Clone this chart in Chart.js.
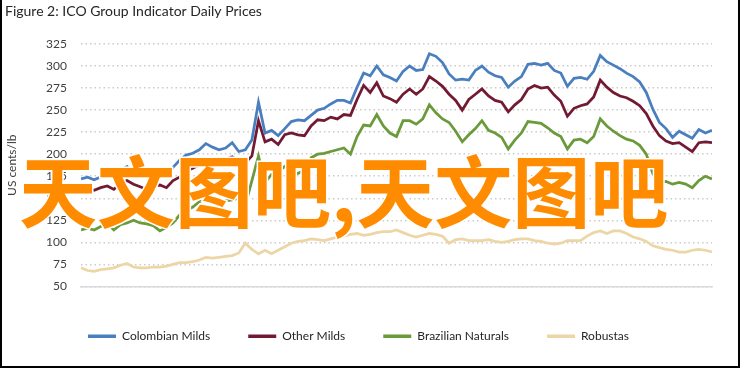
<!DOCTYPE html>
<html>
<head>
<meta charset="utf-8">
<script src="https://cdn.jsdelivr.net/npm/chart.js@4"></script>
<style>
  html, body { margin: 0; padding: 0; background: #fff; }
  #wrap { position: relative; width: 742px; height: 369px; }
  #frame {
    position: absolute; left: 0; top: 0; width: 736px; height: 366px;
    border-left: 2px solid #000; border-right: 2px solid #000; border-bottom: 2px solid #000;
    pointer-events: none;
  }
  #mark {
    position: absolute; left: 19px; top: 148px;
    font-family: "Noto Sans CJK SC"; font-weight: 700; font-size: 78px; line-height: 80px;
    color: #ff8c00; -webkit-text-stroke: 3px #fff; paint-order: stroke fill;
    white-space: nowrap; pointer-events: none;
  }
</style>
</head>
<body>
<div id="wrap">
  <canvas id="chart"></canvas>
  <div id="frame"></div>
  <div id="mark">天文图吧,天文图吧</div>
</div>
<script>
// quarterly tick labels on the x axis
const tickLabels = ['Jan-21', 'Apr-21', 'Jul-21', 'Oct-21', 'Jan-22', 'Apr-22', 'Jul-22', 'Oct-22'];
// one reading every quarter month, Jan 2021 -> Jan 2023 (US cents/lb)
const monthStep = 0.25;

const colombianMilds = [
  172, 174, 171, 174, 178, 176, 181, 186, 176, 179, 177, 180,
  184, 178, 185, 193, 199, 201, 205, 212, 208, 205, 207, 213,
  203, 205, 216, 259, 224, 227, 221, 229, 237, 239, 238, 244,
  250, 252, 257, 261, 261, 258, 276, 292, 289, 300, 290, 287,
  283, 294, 300, 295, 296, 314, 311, 304, 291, 284, 285, 284,
  295, 300, 293, 289, 287, 276, 283, 288, 302, 303, 301, 303,
  295, 292, 277, 286, 287, 285, 294, 312, 305, 301, 297, 292,
  288, 282, 270, 251, 236, 229, 219, 226, 222, 218, 228, 224,
  227
];
const otherMilds = [
  163, 161, 159, 162, 164, 160, 167, 170, 166, 163, 160, 164,
  165, 162, 170, 174, 181, 184, 188, 195, 193, 191, 194, 197,
  192, 190, 198, 238, 214, 217, 211, 222, 224, 222, 221, 232,
  239, 238, 242, 240, 245, 244, 262, 278, 270, 281, 266, 263,
  259, 268, 274, 268, 274, 288, 283, 277, 268, 261, 250, 262,
  268, 274, 266, 261, 259, 248, 256, 262, 274, 278, 275, 276,
  267, 260, 243, 252, 255, 257, 265, 284, 276, 270, 266, 264,
  260, 255, 246, 232, 221, 215, 212, 213, 208, 203, 213, 214,
  213
];
const brazilianNaturals = [
  114, 116, 114, 118, 121, 114, 120, 122, 125, 122, 121, 119,
  113, 117, 122, 131, 136, 140, 146, 150, 149, 146, 147, 148,
  150, 142, 170, 198, 168, 177, 180, 186, 181, 178, 182, 196,
  200, 201, 203, 205, 207, 200, 220, 233, 232, 245, 232, 224,
  220, 238, 238, 234, 240, 256, 247, 240, 236, 226, 214, 222,
  229, 238, 227, 224, 219, 206, 216, 224, 237, 236, 235, 230,
  224, 220, 206, 216, 217, 213, 220, 240, 232, 226, 221, 217,
  215, 210, 200, 178, 168, 169, 166, 168, 166, 162, 170, 175,
  172
];
const robustas = [
  71, 68, 67, 69, 70, 71, 74, 76, 72, 71, 71, 72,
  72, 73, 75, 77, 77, 78, 80, 83, 82, 83, 84, 85,
  88, 99, 92, 87, 91, 87, 91, 95, 99, 101, 102, 104,
  103, 102, 104, 106, 107, 109, 110, 108, 109, 111, 112, 112,
  114, 111, 108, 106, 108, 110, 109, 107, 99, 103, 104, 102,
  102, 102, 103, 101, 100, 101, 103, 104, 104, 102, 101, 99,
  98, 99, 102, 102, 102, 107, 111, 113, 110, 113, 113, 110,
  106, 104, 101, 96, 94, 92, 91, 89, 89, 91, 92, 91,
  89
];

const FONT = 'Lato, "Liberation Sans", sans-serif';
const toPoints = (arr) => arr.map((v, i) => ({ x: i * monthStep, y: v }));

function series(label, data, color) {
  return {
    label, data: toPoints(data),
    borderColor: color, backgroundColor: color,
    borderWidth: 2.75, pointRadius: 0, tension: 0, fill: false,
  };
}

const canvas = document.getElementById('chart');
canvas.width = 742; canvas.height = 369;
canvas.style.width = '742px'; canvas.style.height = '369px';

new Chart(canvas.getContext('2d'), {
  type: 'line',
  data: {
    datasets: [
      series('Colombian Milds', colombianMilds, '#4a7fbf'),
      series('Other Milds', otherMilds, '#731a33'),
      series('Brazilian Naturals', brazilianNaturals, '#6a9a3a'),
      series('Robustas', robustas, '#ecd6a6'),
    ],
  },
  options: {
    responsive: false,
    animation: false,
    layout: { padding: { left: 5, right: 30, top: 0, bottom: 16.8 } },
    plugins: {
      title: {
        display: true,
        text: 'Figure 2: ICO Group Indicator Daily Prices',
        align: 'start',
        color: '#262626',
        font: { family: FONT, size: 14, weight: 'normal' },
        padding: { top: 3, bottom: 24.2 },
      },
      legend: {
        position: 'bottom',
        labels: {
          usePointStyle: true,
          pointStyle: 'line',
          pointStyleWidth: 28,
          boxHeight: 4,
          padding: 38,
          color: '#262626',
          font: { family: FONT, size: 12 },
          generateLabels: (chart) =>
            Chart.defaults.plugins.legend.labels.generateLabels(chart)
              .map((l) => ({ ...l, lineWidth: 3.5 })),
        },
      },
      tooltip: { enabled: false },
    },
    scales: {
      x: {
        type: 'linear',
        min: 0,
        max: 24,
        grid: { display: false },
        border: { color: '#d9d9d9', width: 1.5 },
        ticks: {
          stepSize: 3, autoSkip: false, maxRotation: 0, padding: 14,
          color: '#404040', font: { family: FONT, size: 12 },
          callback: (v) => tickLabels[v / 3] ?? null,
        },
        afterFit: (s) => { s.height = 5.8; },
      },
      y: {
        min: 50,
        max: 325,
        grid: { color: '#cccccc', lineWidth: 1.5, drawTicks: false },
        border: { display: false, dash: [1.5, 3] },
        ticks: { stepSize: 25, padding: 14, color: '#404040', font: { family: FONT, size: 12 } },
        title: {
          display: true, text: 'US cents/lb', color: '#404040',
          font: { family: FONT, size: 12 }, padding: { top: 0, bottom: 0 },
        },
        afterFit: (s) => { s.width = 76; },
      },
    },
  },
});
</script>
</body>
</html>
